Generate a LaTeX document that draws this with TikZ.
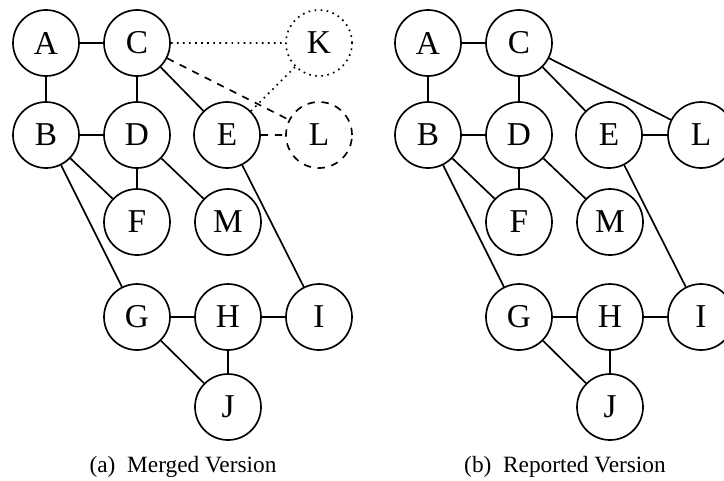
\documentclass[tikz,border=0pt]{standalone}
\usepackage{fontspec}
\setmainfont{Liberation Serif}
\usetikzlibrary{positioning}
\tikzset{
	vert/.style={circle,draw,line width=1.25pt,minimum size=49.5pt,inner sep=0pt,fill=white,font=\fontsize{25}{25}\selectfont},
	dotvert/.style={vert,dash pattern=on 1.25pt off 3.3pt},
	dashvert/.style={vert,dash pattern=on 5.5pt off 5pt},
	edge/.style={color=black, line width=1.25pt},
	dotedge/.style={edge,dash pattern=on 1.25pt off 3.3pt},
	dashedge/.style={edge,dash pattern=on 5.5pt off 5pt},
	caption/.style={font=\fontsize{17.5}{17.5}\selectfont}
}

\begin{document}
\begin{tikzpicture}[x=0.75pt,y=-0.75pt]
		\useasboundingbox (0,0) rectangle (724,480);
		
		%%%% merged graph
		\node[vert] (A) at (46,43) {A};
		\node[vert] (C) at (137,43) {C};
		\node[dotvert] (K) at (319,43) {K};
		\node[vert] (B) at (46,135) {B};
		\node[vert] (D) at (137,135) {D};
		\node[vert] (E) at (227,135) {E};
		\node[dashvert] (L) at (319,135) {L};
		\node[vert] (F) at (137,222) {F};
		\node[vert] (M) at (228,222) {M};
		\node[vert] (G) at (137,317) {G};
		\node[vert] (H) at (228,317) {H};
		\node[vert] (I) at (319,317) {I};
		\node[vert] (J) at (228,407) {J};
		
		\draw[edge] (A) -- (C) (A) -- (B) (B) -- (D) (C) -- (D) (C) -- (E)
		(B) -- (F) (D) -- (F) (D) -- (M) (B) -- (G) (E) -- (I)
		(G) -- (H) (H) -- (I) (H) -- (J) (G) -- (J);
		\draw[dotedge] (C) -- (K) (E) -- (K);
		\draw[dashedge] (C) -- (L) (E) -- (L);
		
		\node[caption] (capa) at (183,467) {(a)\enskip Merged Version};
		
		%%%% reported graph
		\node[vert] (A2) at (428,43) {A};
		\node[vert] (C2) at (519,43) {C};
		\node[vert] (B2) at (428,135) {B};
		\node[vert] (D2) at (519,135) {D};
		\node[vert] (E2) at (609,135) {E};
		\node[vert] (L2) at (701,135) {L};
		\node[vert] (F2) at (519,222) {F};
		\node[vert] (M2) at (610,222) {M};
		\node[vert] (G2) at (519,317) {G};
		\node[vert] (H2) at (610,317) {H};
		\node[vert] (I2) at (701,317) {I};
		\node[vert] (J2) at (610,407) {J};
		
		\draw[edge] (A2) -- (C2) (A2) -- (B2) (B2) -- (D2) (C2) -- (D2) (C2) -- (E2)
		(C2) -- (L2) (E2) -- (L2)
		(B2) -- (F2) (D2) -- (F2) (D2) -- (M2) (B2) -- (G2) (E2) -- (I2)
		(G2) -- (H2) (H2) -- (I2) (H2) -- (J2) (G2) -- (J2);
		
		\node[caption] (capb) at (565,467) {(b)\enskip Reported Version};
	\end{tikzpicture}
\end{document}
